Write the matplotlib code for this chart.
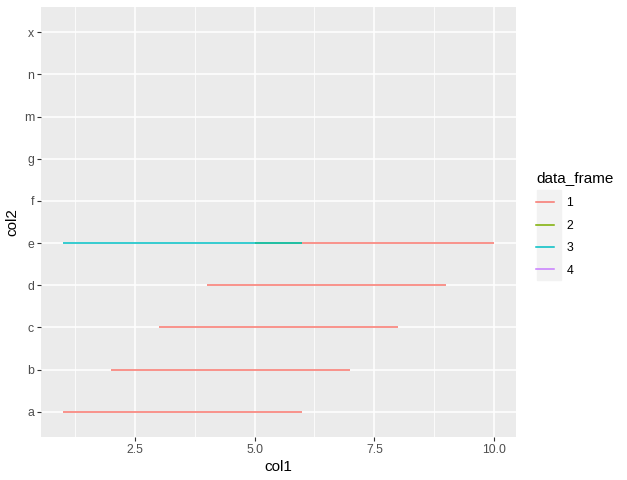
import matplotlib
matplotlib.use("Agg")
import matplotlib.pyplot as plt
from matplotlib.lines import Line2D
from matplotlib.patches import Rectangle

plt.rcParams['font.family'] = ['Liberation Sans', 'DejaVu Sans']

# categories on the y axis (bottom to top)
categorias = ["a", "b", "c", "d", "e", "f", "g", "m", "n", "x"]

# segments per data_frame: (category, x start, x end)
df1 = [("a", 1, 6), ("b", 2, 7), ("c", 3, 8), ("d", 4, 9), ("e", 6, 10)]
df2 = [("e", 5, 6)]
df3 = [("e", 1, 6)]
df4 = [("f", 1, 1), ("g", 1, 1), ("m", 1, 1), ("n", 1, 1), ("x", 1, 1)]

grupos = ["1", "2", "3", "4"]
colores = ["#F8766D", "#7CAE00", "#00BFC4", "#C77CFF"]

W, H = 627, 480
fig = plt.figure(figsize=(W / 100, H / 100), dpi=100)
ax = fig.add_axes([41 / W, 43 / H, 475 / W, 430 / H])
ax.set_facecolor("#EBEBEB")

ypos = {c: i for i, c in enumerate(categorias)}

for datos, col in zip([df1, df2, df3, df4], colores):
    for cat, x0, x1 in datos:
        if x0 == x1:
            continue
        ax.plot([x0, x1], [ypos[cat], ypos[cat]], color=col, lw=1.1,
                solid_capstyle="butt", zorder=3)

ax.set_xlim(0.55, 10.45)
ax.set_ylim(-0.6, len(categorias) - 0.4)
ax.set_xticks([2.5, 5.0, 7.5, 10.0])
ax.set_xticklabels(["2.5", "5.0", "7.5", "10.0"])
ax.set_xticks([1.25, 3.75, 6.25, 8.75], minor=True)
ax.set_yticks(range(len(categorias)))
ax.set_yticklabels(categorias)

ax.grid(which="major", color="white", lw=1.1, zorder=0)
ax.grid(which="minor", axis="x", color="white", lw=0.55, zorder=0)
ax.set_axisbelow(True)
for s in ax.spines.values():
    s.set_visible(False)
ax.tick_params(which="major", length=2.75, width=0.8, color="#333333",
               labelsize=8.8, labelcolor="#4D4D4D", pad=2.2)
ax.tick_params(which="minor", length=0)

ax.set_xlabel("col1", fontsize=11, labelpad=3)
ax.set_ylabel("col2", fontsize=11, labelpad=3)

# legend key background
fig.patches.append(Rectangle((537 / W, 1 - 280 / H), 24 / W, 90 / H,
                             transform=fig.transFigure, color="#F2F2F2",
                             zorder=0))

handles = [Line2D([0], [0], color=c, lw=1.1) for c in colores]
leg = fig.legend(handles, grupos, title="data_frame", loc="upper left",
                 bbox_to_anchor=(536 / W, 1 - 173 / H), frameon=False,
                 fontsize=8.8, title_fontsize=11, handlelength=1.5,
                 handletextpad=1.0, labelspacing=0.85, alignment="left",
                 borderpad=0, borderaxespad=0)
leg.get_title().set_position((0, 2))

fig.savefig("out.png", dpi=100)
